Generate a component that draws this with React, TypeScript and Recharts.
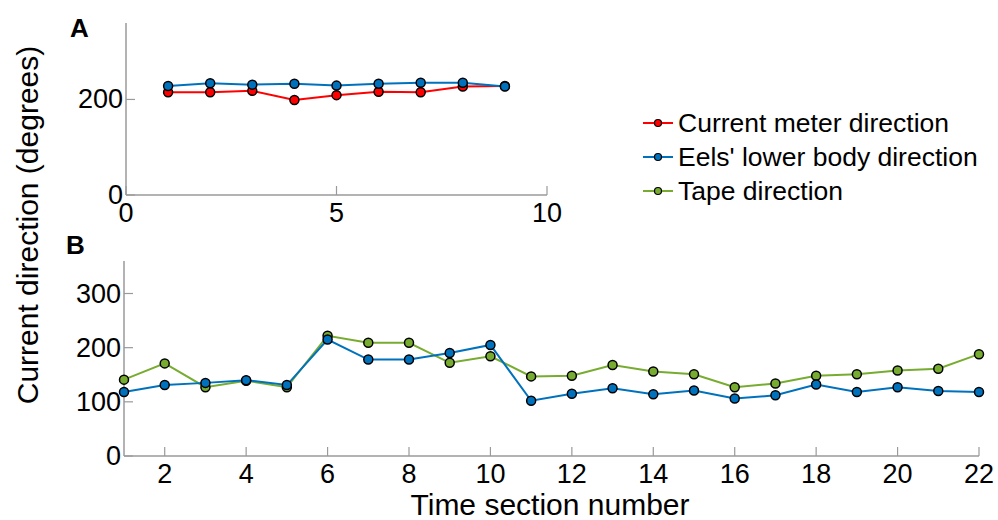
import React from 'react';
import { LineChart, Line, XAxis, YAxis, Legend } from 'recharts';

// Panel A data
const sectionsA = [1, 2, 3, 4, 5, 6, 7, 8, 9];
const currentMeterA = [215, 215, 218, 199, 209, 216, 215, 227, 228];
const eelsA = [228, 234, 231, 233, 229, 233, 235, 235, 227];
const xTicksA = [0, 5, 10];
const yTicksA = [0, 200];

// Panel B data
const sectionsB = [1, 2, 3, 4, 5, 6, 7, 8, 9, 10, 11, 12, 13, 14, 15, 16, 17, 18, 19, 20, 21, 22];
const eelsB = [118, 131, 135, 140, 131, 215, 178, 178, 190, 205, 102, 115, 125, 114, 121, 106, 112, 132, 118, 127, 120, 118];
const tapeB = [141, 171, 127, 139, 127, 222, 209, 209, 172, 184, 147, 148, 168, 156, 151, 127, 134, 148, 151, 158, 161, 188];
const xTicksB = [2, 4, 6, 8, 10, 12, 14, 16, 18, 20, 22];
const yTicksB = [0, 100, 200, 300];

// Legend
const legendNames = ['Current meter direction', "Eels' lower body direction", 'Tape direction'];
const legendColors = ['#FF0000', '#0072BD', '#77AC30'];

const RED = '#FF0000';
const BLUE = '#0072BD';
const GREEN = '#77AC30';
const AXIS = '#9a9a9a';
const FONT = '"Liberation Sans", Arial, Helvetica, sans-serif';

const dataA = sectionsA.map((x, i) => ({ x, meter: currentMeterA[i], eels: eelsA[i] }));
const dataB = sectionsB.map((x, i) => ({ x, eels: eelsB[i], tape: tapeB[i] }));

const YTick = (props: any) => {
  const { x, y, payload } = props;
  return (
    <g>
      <line x1={x} x2={x + 9} y1={y} y2={y} stroke={AXIS} strokeWidth={1.2} />
      <text x={x - 3} y={y} textAnchor="end" dominantBaseline="central" fontSize={27} fontFamily={FONT} fill="#000">
        {payload.value}
      </text>
    </g>
  );
};

const XTick = (props: any) => {
  const { x, y, payload } = props;
  return (
    <g>
      <line x1={x} x2={x} y1={y} y2={y - 9} stroke={AXIS} strokeWidth={1.2} />
      <text x={x} y={y + 18} textAnchor="middle" dominantBaseline="central" fontSize={27} fontFamily={FONT} fill="#000">
        {payload.value}
      </text>
    </g>
  );
};

const LegendContent = () => (
  <div style={{ fontFamily: FONT }}>
    {legendNames.map((name, i) => (
      <div key={name} style={{ display: 'flex', alignItems: 'center', height: 34 }}>
        <svg width={30} height={34} style={{ display: 'block' }}>
          <line x1={0} x2={30} y1={17} y2={17} stroke={legendColors[i]} strokeWidth={2} />
          <circle cx={15} cy={17} r={3.5} fill={legendColors[i]} stroke="#000" strokeWidth={1.2} />
        </svg>
        <span style={{ fontSize: 26.5, lineHeight: '34px', marginLeft: 5, whiteSpace: 'nowrap', color: '#000' }}>{name}</span>
      </div>
    ))}
  </div>
);

const dot = (color: string) => ({ r: 4.5, fill: color, stroke: '#000', strokeWidth: 1.5 });

export default function App() {
  return (
    <div style={{ position: 'absolute', left: 0, top: 0, width: 998, height: 520, background: '#fff', fontFamily: FONT, overflow: 'hidden' }}>
      <div style={{ position: 'absolute', left: 0, top: 0 }}>
        <LineChart width={998} height={240} data={dataA} margin={{ top: 23, right: 451, bottom: 15, left: 0 }}>
          <XAxis
            dataKey="x"
            type="number"
            domain={[0, 10]}
            ticks={xTicksA}
            interval={0}
            height={30}
            tickSize={0}
            tickMargin={0}
            tickLine={false}
            axisLine={{ stroke: AXIS, strokeWidth: 1.5 }}
            tick={<XTick />}
          />
          <YAxis
            type="number"
            domain={[0, 360]}
            ticks={yTicksA}
            interval={0}
            width={126}
            tickSize={0}
            tickMargin={0}
            tickLine={false}
            axisLine={{ stroke: AXIS, strokeWidth: 1.5 }}
            tick={<YTick />}
          />
          <Legend
            layout="vertical"
            align="center"
            verticalAlign="middle"
            content={<LegendContent />}
            wrapperStyle={{ left: 643, top: 106, width: 350 }}
          />
          <Line dataKey="meter" stroke={RED} strokeWidth={2} dot={dot(RED)} activeDot={false} isAnimationActive={false} />
          <Line dataKey="eels" stroke={BLUE} strokeWidth={2} dot={dot(BLUE)} activeDot={false} isAnimationActive={false} />
        </LineChart>
      </div>
      <div style={{ position: 'absolute', left: 0, top: 230 }}>
        <LineChart width={998} height={290} data={dataB} margin={{ top: 31, right: 19, bottom: 34, left: 0 }}>
          <XAxis
            dataKey="x"
            type="number"
            domain={[1, 22]}
            ticks={xTicksB}
            interval={0}
            height={30}
            tickSize={0}
            tickMargin={0}
            tickLine={false}
            axisLine={{ stroke: AXIS, strokeWidth: 1.5 }}
            tick={<XTick />}
          />
          <YAxis
            type="number"
            domain={[0, 360]}
            ticks={yTicksB}
            interval={0}
            width={124}
            tickSize={0}
            tickMargin={0}
            tickLine={false}
            axisLine={{ stroke: AXIS, strokeWidth: 1.5 }}
            tick={<YTick />}
          />
          <Line dataKey="tape" stroke={GREEN} strokeWidth={2} dot={dot(GREEN)} activeDot={false} isAnimationActive={false} />
          <Line dataKey="eels" stroke={BLUE} strokeWidth={2} dot={dot(BLUE)} activeDot={false} isAnimationActive={false} />
        </LineChart>
      </div>
      <div style={{ position: 'absolute', left: 70, top: 13, fontSize: 26, fontWeight: 'bold', lineHeight: '30px' }}>A</div>
      <div style={{ position: 'absolute', left: 66, top: 230, fontSize: 26, fontWeight: 'bold', lineHeight: '30px' }}>B</div>
      <div
        style={{
          position: 'absolute',
          left: 28,
          top: 225,
          transform: 'translate(-50%, -50%) rotate(-90deg)',
          fontSize: 30,
          lineHeight: '30px',
          whiteSpace: 'nowrap',
        }}
      >
        Current direction (degrees)
      </div>
      <div
        style={{
          position: 'absolute',
          left: 550,
          top: 490,
          transform: 'translateX(-50%)',
          fontSize: 30,
          lineHeight: '30px',
          whiteSpace: 'nowrap',
        }}
      >
        Time section number
      </div>
    </div>
  );
}
